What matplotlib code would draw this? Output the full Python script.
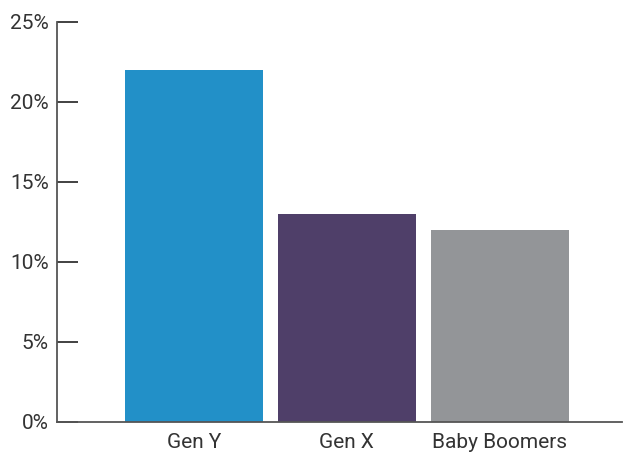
import matplotlib.pyplot as plt
from matplotlib.ticker import FuncFormatter
from matplotlib import font_manager

# generations and share values (%)
generations = ['Gen Y', 'Gen X', 'Baby Boomers']
shares = [22, 13, 12]
bar_colors = ['#2290c8', '#4f3f69', '#939598']
y_ticks = [0, 5, 10, 15, 20, 25]

names = {f.name for f in font_manager.fontManager.ttflist}
family = 'Liberation Sans Narrow' if 'Liberation Sans Narrow' in names else 'Roboto'
plt.rcParams['font.family'] = [family, 'DejaVu Sans']

fig = plt.figure(figsize=(6.29, 4.57), dpi=100)
ax = fig.add_axes([0.0906, 0.0766, 0.898, 0.8753])

x = list(range(len(generations)))
ax.bar(x, shares, width=0.9, color=bar_colors, zorder=2)

ax.set_xlim(-0.895, 2.797)
ax.set_ylim(0, 25)
ax.set_yticks(y_ticks)
ax.yaxis.set_major_formatter(FuncFormatter(lambda v, p: '%d%%' % v))
ax.set_xticks(x)
ax.set_xticklabels(generations)

for side in ['top', 'right']:
    ax.spines[side].set_visible(False)
for side in ['left', 'bottom']:
    ax.spines[side].set_color('#555555')
    ax.spines[side].set_linewidth(1.3)

ax.tick_params(axis='y', direction='in', length=15, width=1.3, color='#333333',
               labelsize=15, labelcolor='#333333', pad=6)
ax.tick_params(axis='x', length=0, labelsize=15, labelcolor='#333333', pad=8)

plt.savefig('out.png', dpi=100)
